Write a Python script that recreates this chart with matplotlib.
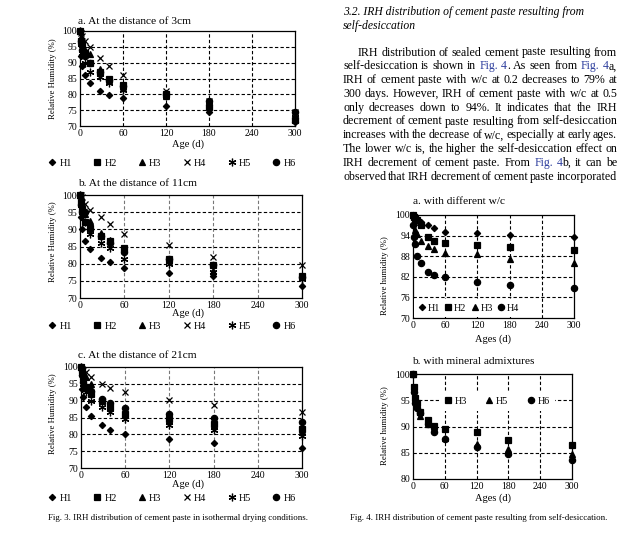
import matplotlib
matplotlib.use('Agg')
import matplotlib.pyplot as plt

plt.rcParams['font.family'] = ['Liberation Serif', 'DejaVu Serif']

W, H = 643, 547

ages = [0, 1, 3, 7, 14, 28, 40, 60, 120, 180, 300]
age_ticks = [0, 60, 120, 180, 240, 300]

# Fig. 3a - at the distance of 3cm
d3_h1 = [100, 92, 89, 86, 83.6, 81.2, 79.8, 78.7, 76.4, 74.3, 71.3]
d3_h2 = [100, 97, 96, 93, 90, 87, 85, 82.8, 80, 76, 72]
d3_h3 = [100, 98, 96, 94, 92.8, 88, 84.5, 82, 79.5, 77, 72.5]
d3_h4 = [100, 99.5, 98.5, 97, 95, 91.5, 89, 86, 81, 78, 74.5]
d3_h5 = [100, 96, 93, 90, 87, 85.5, 83.5, 81.5, 79.5, 77, 73]
d3_h6 = [100, 97, 94, 92, 90, 87, 84.5, 82.5, 80, 78, 74.5]

# Fig. 3b - at the distance of 11cm
d11_h1 = [100, 93.5, 90, 86.5, 84.4, 81.6, 80.4, 78.8, 77.2, 76.3, 73.4]
d11_h2 = [100, 98, 96, 92, 90.5, 88, 86.5, 84.5, 81.5, 79.5, 76.5]
d11_h3 = [100, 98.5, 97, 94.5, 92.5, 89, 87, 84, 81, 78, 76]
d11_h4 = [100, 100, 99.5, 97.5, 95.5, 93.5, 91.5, 88.5, 85.5, 82, 79.5]
d11_h5 = [100, 97, 95, 92, 88.5, 86, 84.5, 81.5, 80, 77.5, 75.5]
d11_h6 = [100, 97, 95, 95, 90, 88, 86, 83.5, 81.5, 79.5, 76]

# Fig. 3c - at the distance of 21cm
d21_h1 = [100, 93.5, 91, 88, 85.5, 82.8, 81.3, 80, 78.6, 77.5, 76]
d21_h2 = [100, 99, 97, 94, 92, 90, 88, 86, 84.5, 83, 81.5]
d21_h3 = [100, 99, 98, 97, 95, 90.5, 88.5, 86, 84, 82.5, 81]
d21_h4 = [100, 99.5, 99, 98.5, 97, 95, 93.7, 92.5, 90.3, 88.8, 86.5]
d21_h5 = [100, 98, 95, 92.5, 90, 88, 86.5, 84.5, 82.8, 81.2, 79.5]
d21_h6 = [100, 97.5, 95.5, 94, 93, 90.5, 89.3, 87.7, 86, 84.8, 83.7]

# Fig. 4a - self-desiccation, different w/c
wc_h1 = [100, 99.5, 99, 98.5, 98, 97, 96.1, 95.1, 94.7, 94.2, 93.7]
wc_h2 = [100, 99.5, 99, 98.5, 97, 93.7, 92.5, 91.9, 91.3, 90.6, 89.8]
wc_h3 = [100, 98, 95.5, 94.5, 92.5, 91, 90, 89, 88.5, 87.3, 86]
wc_h4 = [97, 93.7, 91.5, 88, 86, 83.5, 82.5, 81.8, 80.6, 79.6, 78.8]

# Fig. 4b - self-desiccation, mineral admixtures
ma_h3 = [100, 97.5, 95.5, 94.5, 92.8, 91.3, 90.1, 89.5, 89, 87.5, 86.5]
ma_h5 = [100, 97, 95, 94, 92, 90.5, 89.8, 87.8, 86.7, 85.8, 84.8]
ma_h6 = [100, 96.5, 94.5, 93.5, 92.5, 90.5, 89, 87.6, 86.1, 84.8, 83.7]

fig3_labels = ['H1', 'H2', 'H3', 'H4', 'H5', 'H6']
fig3_markers = [('D', 3.2), ('s', 4.3), ('^', 4.8), ('x', 5), ((6, 2, 0), 5.5), ('o', 4.5)]

fig = plt.figure(figsize=(W / 100, H / 100), dpi=100)


def fx(x):
    return x / W


def fy(y):
    return 1 - y / H


def add_axes(left, top, right, bottom):
    return fig.add_axes([fx(left), fy(bottom), (right - left) / W, (bottom - top) / H])


def draw_panel(ax, series, labels, markers, yticks, vcolor='black'):
    for vals, lab, (m, ms) in zip(series, labels, markers):
        ax.plot(ages, vals, linestyle='none', marker=m, ms=ms, color='black',
                mec='black', mew=0.9, label=lab, clip_on=False, zorder=4)
    ax.set_xlim(0, 300)
    ax.set_ylim(yticks[0], yticks[-1])
    ax.set_xticks(age_ticks)
    ax.set_yticks(yticks)
    for x in age_ticks[1:-1]:
        ax.axvline(x, color=vcolor, ls=(0, (3, 2)), lw=0.8, zorder=1)
    for y in yticks[1:-1]:
        ax.axhline(y, color='black', ls=(0, (3, 2)), lw=0.8, zorder=1)
    ax.tick_params(length=0, labelsize=7, pad=2)
    for s in ax.spines.values():
        s.set_linewidth(0.9)


# ---- Fig. 3 (left column) ----
panels3 = [
    ('a. At the distance of 3cm', (80, 31, 295, 126), [d3_h1, d3_h2, d3_h3, d3_h4, d3_h5, d3_h6],
     21, 79, 144, 163, 'black'),
    ('b. At the distance of 11cm', (80, 195, 302, 298), [d11_h1, d11_h2, d11_h3, d11_h4, d11_h5, d11_h6],
     184, 242, 313, 326, '#777777'),
    ('c. At the distance of 21cm', (81, 367, 302, 468), [d21_h1, d21_h2, d21_h3, d21_h4, d21_h5, d21_h6],
     356, 414, 484, 498, '#777777'),
]
for title, box, series, ty, ly, xly, legy, vc in panels3:
    ax = add_axes(*box)
    draw_panel(ax, series, fig3_labels, fig3_markers, [70, 75, 80, 85, 90, 95, 100], vc)
    fig.text(fx(78), fy(ty), title, fontsize=8.2, ha='left', va='center')
    fig.text(fx(53), fy(ly), 'Relative Humidity (%)', fontsize=6.3, rotation=90, ha='center', va='center')
    fig.text(fx(188), fy(xly), 'Age (d)', fontsize=7.5, ha='center', va='center')
    ax.legend(loc='center', bbox_to_anchor=(fx(172), fy(legy)), bbox_transform=fig.transFigure,
              ncol=6, frameon=False, fontsize=7.3, handlelength=0.8, handletextpad=0.3,
              columnspacing=2.1, borderpad=0)

fig.text(fx(178), fy(518), 'Fig. 3. IRH distribution of cement paste in isothermal drying conditions.',
         fontsize=6.4, ha='center', va='center')

# ---- Fig. 4 (right column) ----
ax4a = add_axes(413, 215, 574, 318)
draw_panel(ax4a, [wc_h1, wc_h2, wc_h3, wc_h4], ['H1', 'H2', 'H3', 'H4'],
           [('D', 3.2), ('s', 4.5), ('^', 4.8), ('o', 4.5)], [70, 76, 82, 88, 94, 100])
leg = ax4a.legend(loc='lower left', bbox_to_anchor=(0.004, 0.008), ncol=4, fontsize=7.3,
                  handlelength=0.7, handletextpad=0.2, columnspacing=0.5, borderpad=0.45,
                  borderaxespad=0, frameon=True, fancybox=False, facecolor='white',
                  edgecolor='none', framealpha=1)
leg.set_zorder(3)
fig.text(fx(413), fy(201), 'a. with different w/c', fontsize=8.2, ha='left', va='center')
fig.text(fx(385), fy(276), 'Relative humidity (%)', fontsize=6.3, rotation=90, ha='center', va='center')
fig.text(fx(493), fy(339), 'Ages (d)', fontsize=7.5, ha='center', va='center')

ax4b = add_axes(413, 374, 572, 479)
draw_panel(ax4b, [ma_h3, ma_h5, ma_h6], ['H3', 'H5', 'H6'],
           [('s', 4.5), ('^', 4.8), ('o', 4.5)], [80, 85, 90, 95, 100])
leg = ax4b.legend(loc='center', bbox_to_anchor=(fx(497), fy(401)), bbox_transform=fig.transFigure,
                  ncol=3, fontsize=7.3, handlelength=0.7, handletextpad=0.3, columnspacing=1.9,
                  borderpad=0.5, frameon=True, fancybox=False, facecolor='white', edgecolor='none',
                  framealpha=1)
leg.set_zorder(3)
fig.text(fx(412), fy(361), 'b. with mineral admixtures', fontsize=8.2, ha='left', va='center')
fig.text(fx(385), fy(426), 'Relative humidity (%)', fontsize=6.3, rotation=90, ha='center', va='center')
fig.text(fx(493), fy(498), 'Ages (d)', fontsize=7.5, ha='center', va='center')

fig.text(fx(479), fy(518), 'Fig. 4. IRH distribution of cement paste resulting from self-desiccation.',
         fontsize=6.4, ha='center', va='center')

# ---- body text (right column, top) ----
fig.text(fx(343), fy(12), '3.2. IRH distribution of cement paste resulting from',
         fontsize=8.4, style='italic', ha='left', va='center')
fig.text(fx(343), fy(26), 'self-desiccation', fontsize=8.4, style='italic', ha='left', va='center')

body_lines = [
    'IRH distribution of sealed cement paste resulting from',
    'self-desiccation is shown in {Fig.} {4}. As seen from {Fig.} {4}a,',
    'IRH of cement paste with w/c at 0.2 decreases to 79% at',
    '300 days. However, IRH of cement paste with w/c at 0.5',
    'only decreases down to 94%. It indicates that the IRH',
    'decrement of cement paste resulting from self-desiccation',
    'increases with the decrease of w/c, especially at early ages.',
    'The lower w/c is, the higher the self-desiccation effect on',
    'IRH decrement of cement paste. From {Fig.} {4}b, it can be',
    'observed that IRH decrement of cement paste incorporated',
]
link_color = '#2e3f9e'
body_size = 8.6
renderer = fig.canvas.get_renderer()
text_left, text_right = 343, 617
for i, line in enumerate(body_lines):
    y = 52 + i * 13.8 + 3.5
    x0 = text_left + (15 if i == 0 else 0)
    words = []
    for w in line.split(' '):
        # parts inside braces are the blue links
        colored = []
        inside = False
        buf = ''
        for ch in w:
            if ch == '{':
                if buf:
                    colored.append((buf, 'black'))
                buf = ''
                inside = True
            elif ch == '}':
                colored.append((buf, link_color))
                buf = ''
                inside = False
            else:
                buf += ch
        if buf:
            colored.append((buf, link_color if inside else 'black'))
        items = []
        wsum = 0
        for txt, col in colored:
            t = fig.text(0, 0, txt, fontsize=body_size, color=col, ha='left', va='baseline')
            wd = t.get_window_extent(renderer).width
            items.append((t, wd))
            wsum += wd
        words.append((items, wsum))
    total = sum(ws for _, ws in words)
    gap = (text_right - x0 - total) / (len(words) - 1)
    x = x0
    for items, ws in words:
        xx = x
        for t, wd in items:
            t.set_position((fx(xx), fy(y)))
            xx += wd
        x += ws + gap

fig.savefig('out.png', dpi=100)
